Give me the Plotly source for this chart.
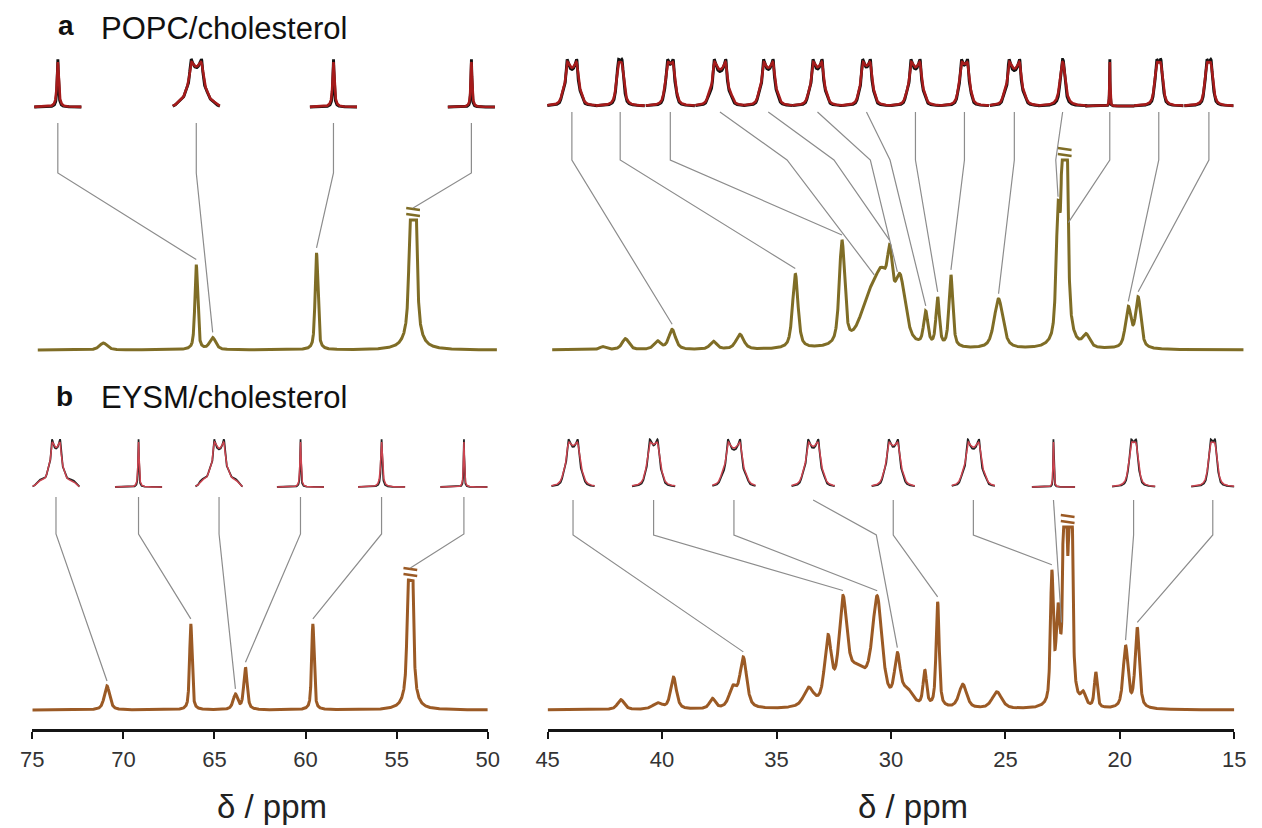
import numpy as np
import plotly.graph_objects as go

W, H = 1262, 828

# ---------------- spectra: peak lists (ppm, height, FWHM in ppm) ----------------
a_left_ppm = [71.1, 66.0, 65.1, 59.4, 54.1]
a_left_h = [7, 85, 12, 97, 400]
a_left_w = [0.5, 0.18, 0.4, 0.18, 0.28]
a_left_cap = 130
a_left_break = [54.1]

a_right_ppm = [42.6, 41.6, 40.2, 39.56, 37.76, 36.6, 34.18, 32.14, 31.0, 30.4, 30.05, 29.6,
               28.48, 27.96, 27.38, 25.3, 22.7, 22.41, 21.47, 19.63, 19.2]
a_right_h = [3, 11, 8, 20, 8, 15, 75, 104, 38, 62, 50, 62,
             33, 48, 72, 50, 115, 500, 12, 40, 50]
a_right_w = [0.3, 0.35, 0.35, 0.35, 0.35, 0.4, 0.28, 0.28, 0.9, 0.8, 0.25, 0.55,
             0.22, 0.18, 0.2, 0.45, 0.2, 0.2, 0.35, 0.3, 0.28]
a_right_cap = 190
a_right_break = [22.41]

b_left_ppm = [70.9, 66.3, 63.85, 63.3, 59.6, 54.25]
b_left_h = [24, 86, 15, 42, 86, 400]
b_left_w = [0.35, 0.16, 0.3, 0.22, 0.16, 0.22]
b_left_cap = 130
b_left_break = [54.25]

b_right_ppm = [41.8, 40.2, 39.5, 37.8, 36.9, 36.45, 33.6, 32.75, 32.1, 31.5, 30.6, 29.72,
               29.3, 28.52, 27.96, 26.86, 25.37, 22.97, 22.7, 22.4, 22.15, 21.6, 21.05,
               19.75, 19.24]
b_right_h = [10, 6, 32, 10, 20, 50, 18, 64, 92, 35, 102, 45,
             15, 35, 105, 24, 17, 128, 85, 400, 400, 12, 35, 62, 80]
b_right_w = [0.35, 0.5, 0.3, 0.3, 0.4, 0.35, 0.5, 0.35, 0.4, 1.2, 0.5, 0.3,
             0.6, 0.18, 0.16, 0.4, 0.5, 0.15, 0.2, 0.14, 0.14, 0.25, 0.15, 0.25, 0.22]
b_right_cap = 183
b_right_break = [22.28]

# ---------------- insets (position in ppm, dipolar splitting, line width, wings) ----------------
a_left_inset_ppm = [73.6, 66.0, 58.47, 50.9]
a_left_inset_split = [0, 12, 0, 0]
a_left_inset_lw = [2.2, 3.8, 2.2, 1.6]
a_left_inset_wing = [0, 0.1, 0, 0]
a_left_link_to = [66.0, 65.1, 59.4, 54.1]
a_left_link_via = [None, None, None, None]

a_right_inset_ppm = [43.94, 41.83, 39.64, 37.47, 35.36, 33.21, 31.07, 28.93, 26.79, 24.61,
                     22.5, 20.44, 18.3, 16.11]
a_right_inset_split = [11, 5, 7, 13, 11, 10.5, 9, 10.5, 7.5, 12, 3, 0, 5.5, 5.5]
a_right_inset_lw = [3.2, 3.4, 3.2, 3.2, 3.2, 3.2, 3.2, 3.2, 3.2, 3.2, 4.5, 0.7, 3.2, 3.2]
a_right_inset_wing = [0] * 14
a_right_link_to = [39.56, 34.18, 32.14, 30.73, 30.07, 29.72, 28.48, 27.96, 27.38, 25.3,
                   22.7, 22.25, 19.63, 19.2]
a_right_link_via = [None, None, None, 34.54, 32.49, 30.9, 30.04, None, None, None,
                    22.8, None, None, None]

b_left_inset_ppm = [73.7, 69.17, 64.75, 60.28, 55.83, 51.31]
b_left_inset_split = [9.3, 0, 11, 0, 0, 0]
b_left_inset_lw = [2.6, 1.4, 2.8, 1.4, 2.2, 1.2]
b_left_inset_wing = [0.14, 0, 0.16, 0, 0, 0]
b_left_link_to = [70.9, 66.3, 63.85, 63.3, 59.6, 54.25]
b_left_link_via = [None] * 6

b_right_inset_ppm = [43.89, 40.37, 36.86, 33.4, 29.9, 26.4, 22.9, 19.4, 15.94]
b_right_inset_split = [11, 9.6, 14, 12, 11, 13, 0, 6.5, 6]
b_right_inset_lw = [4, 4, 4, 4, 4, 4, 1.0, 3.6, 3.6]
b_right_inset_wing = [0] * 9
b_right_link_to = [36.45, 32.1, 30.6, 29.72, 27.96, 22.97, 22.55, 19.75, 19.24]
b_right_link_via = [None, None, None, 30.64, None, None, 22.8, None, None]

x_ticks_left = [75, 70, 65, 60, 55, 50]
x_ticks_right = [45, 40, 35, 30, 25, 20, 15]

# ---------------- styles / layout geometry ----------------
COL_A = "#7f6d26"
COL_B = "#9b5a25"
RED_A, BLK_A = "#a51b1b", "#111111"
RED_B, BLK_B = "#cc4450", "#222222"
GRAY = "#8c8c8c"
FONT = "Liberation Sans, Arial, sans-serif"

LPX = (485 - 20.7) / 25.0    # px per ppm, left block
RPX = (1246 - 546) / 30.0    # px per ppm, right block


def xdom(px0, ppm0, pxppm, r):
    a = px0 + (ppm0 - r[0]) * pxppm
    b = px0 + (ppm0 - r[1]) * pxppm
    return [a / W, b / W]


def ydom(py_bottom, py_top):
    return [1 - py_bottom / H, 1 - py_top / H]


quads = {
    "aL": dict(ax="x", ay="y", rng=[75.5, 49.3], px0=20.7, ppm0=75, pxppm=LPX,
               base=350, ybot=365, ytop=45, span=[74.7, 49.5],
               pk=(a_left_ppm, a_left_h, a_left_w), cap=a_left_cap, brk=a_left_break,
               ins=(a_left_inset_ppm, a_left_inset_split, a_left_inset_lw, a_left_inset_wing),
               link=(a_left_link_to, a_left_link_via), col=COL_A, red=RED_A, blk=BLK_A,
               ilw=2.6, ibase=107, ih=45, ihw=24, start=123, bend=173),
    "aR": dict(ax="x2", ay="y2", rng=[45.4, 14.5], px0=546, ppm0=45, pxppm=RPX,
               base=350, ybot=365, ytop=45, span=[44.8, 14.6],
               pk=(a_right_ppm, a_right_h, a_right_w), cap=a_right_cap, brk=a_right_break,
               ins=(a_right_inset_ppm, a_right_inset_split, a_right_inset_lw, a_right_inset_wing),
               link=(a_right_link_to, a_right_link_via), col=COL_A, red=RED_A, blk=BLK_A,
               ilw=2.6, ibase=106, ih=44, ihw=25, start=112, bend=160),
    "bL": dict(ax="x3", ay="y3", rng=[75, 50], px0=20.7, ppm0=75, pxppm=LPX,
               base=710, ybot=729, ytop=425, span=[75, 50],
               pk=(b_left_ppm, b_left_h, b_left_w), cap=b_left_cap, brk=b_left_break,
               ins=(b_left_inset_ppm, b_left_inset_split, b_left_inset_lw, b_left_inset_wing),
               link=(b_left_link_to, b_left_link_via), col=COL_B, red=RED_B, blk=BLK_B,
               ilw=1.5, ibase=487, ih=45, ihw=24, start=497, bend=534),
    "bR": dict(ax="x4", ay="y4", rng=[45, 15], px0=546, ppm0=45, pxppm=RPX,
               base=710, ybot=729, ytop=425, span=[45, 15],
               pk=(b_right_ppm, b_right_h, b_right_w), cap=b_right_cap, brk=b_right_break,
               ins=(b_right_inset_ppm, b_right_inset_split, b_right_inset_lw, b_right_inset_wing),
               link=(b_right_link_to, b_right_link_via), col=COL_B, red=RED_B, blk=BLK_B,
               ilw=1.5, ibase=487, ih=45, ihw=22, start=500, bend=535),
}


def spectrum(x, pk, cap, eta=0.6):
    y = np.zeros_like(x)
    for c, h, w in zip(*pk):
        d = (x - c) / w
        y += h * (eta / (1 + 4 * d ** 2) + (1 - eta) * np.exp(-4 * np.log(2) * d ** 2))
    return np.minimum(y, cap)


def lineshape(v, split, lw, wing):
    if split > 0:
        c = np.linspace(0, 1, 301)
        nu = 0.5 * split * (3 * c ** 2 - 1)
        s = np.zeros_like(v)
        for n in nu:
            s += 1 / (1 + 4 * ((v - n) / lw) ** 2) + 1 / (1 + 4 * ((v + n) / lw) ** 2)
    else:
        s = 1 / (1 + 4 * (v / lw) ** 2)
    s = s / s.max()
    if wing > 0:
        s = s + wing / (1 + np.exp((np.abs(v) - 20) / 1.2))
        s = s / s.max()
    return s


fig = go.Figure()
layout_axes = {}

for key, q in quads.items():
    xa, ya = q["ax"], q["ay"]
    base = q["base"]
    # spectrum
    xs = np.linspace(q["span"][0], q["span"][1], 5000)
    ys = spectrum(xs, q["pk"], q["cap"])
    fig.add_trace(go.Scatter(x=xs, y=ys, mode="lines", xaxis=xa, yaxis=ya,
                             line=dict(color=q["col"], width=3), hoverinfo="skip",
                             showlegend=False))
    # break marks on truncated peaks
    dx = 7.0 / q["pxppm"]
    for c in q["brk"]:
        for off in (5, 11):
            fig.add_trace(go.Scatter(x=[c + dx, c - dx], y=[q["cap"] + off + 1, q["cap"] + off - 1],
                                     mode="lines", xaxis=xa, yaxis=ya,
                                     line=dict(color=q["col"], width=2.5),
                                     hoverinfo="skip", showlegend=False))
    # connectors
    cx, cy = [], []
    y_start = base - q["start"]
    y_bend = base - q["bend"]
    for ip, tgt, via in zip(q["ins"][0], q["link"][0], q["link"][1]):
        ty = float(spectrum(np.array([tgt]), q["pk"], q["cap"])[0])
        ty = ty + (12 if ty >= q["cap"] - 0.5 else 5)
        bx = ip if via is None else via
        cx += [ip, bx, tgt, None]
        cy += [y_start, y_bend, ty, None]
    fig.add_trace(go.Scatter(x=cx, y=cy, mode="lines", xaxis=xa, yaxis=ya,
                             line=dict(color=GRAY, width=1.2), hoverinfo="skip",
                             showlegend=False))
    # insets
    ib = base - q["ibase"]
    hw = q["ihw"]
    v = np.linspace(-hw, hw, 400)
    for ip, sp, lw, wg in zip(*q["ins"]):
        xv = ip - v / q["pxppm"]
        exp_shape = lineshape(v, sp, lw * 0.7, wg * 1.2) * 1.06
        fit_shape = lineshape(v, sp, lw, wg)
        fig.add_trace(go.Scatter(x=xv, y=ib + q["ih"] * exp_shape, mode="lines",
                                 xaxis=xa, yaxis=ya,
                                 line=dict(color=q["blk"], width=q["ilw"] + 0.3),
                                 hoverinfo="skip", showlegend=False))
        fig.add_trace(go.Scatter(x=xv, y=ib + q["ih"] * fit_shape, mode="lines",
                                 xaxis=xa, yaxis=ya,
                                 line=dict(color=q["red"], width=q["ilw"]),
                                 hoverinfo="skip", showlegend=False))

    axis_x_name = "xaxis" + xa[1:]
    axis_y_name = "yaxis" + ya[1:]
    show_axis = key.startswith("b")
    xd = dict(domain=xdom(q["px0"], q["ppm0"], q["pxppm"], q["rng"]), range=q["rng"],
              anchor=ya, showgrid=False, zeroline=False, fixedrange=True)
    if show_axis:
        ticks = x_ticks_left if key == "bL" else x_ticks_right
        xd.update(showline=True, linewidth=2.5, linecolor="#151515",
                  ticks="outside", ticklen=7, tickwidth=2, tickcolor="#151515",
                  tickvals=ticks, ticktext=[str(t) for t in ticks],
                  tickfont=dict(family=FONT, size=22, color="#333333"),
                  ticklabelstandoff=2)
    else:
        xd.update(visible=False)
    layout_axes[axis_x_name] = xd
    layout_axes[axis_y_name] = dict(domain=ydom(q["ybot"], q["ytop"]),
                                    range=[base - q["ybot"], base - q["ytop"]],
                                    anchor=xa, visible=False, fixedrange=True)


def ann(text, px, py, size, xanchor="left", bold=False, color="#111111"):
    return dict(text=("<b>%s</b>" % text) if bold else text, x=px / W, y=1 - py / H,
                xref="paper", yref="paper", xanchor=xanchor, yanchor="middle",
                showarrow=False, font=dict(family=FONT, size=size, color=color))


annotations = [
    ann("a", 55, 25, 28, xanchor="center", bold=True),
    ann("POPC/cholesterol", 89, 28, 31),
    ann("b", 54, 396, 28, xanchor="center", bold=True),
    ann("EYSM/cholesterol", 89, 397, 31),
    ann("δ / ppm", 265, 806, 33, xanchor="center", color="#222222"),
    ann("δ / ppm", 918, 806, 33, xanchor="center", color="#222222"),
]

fig.update_layout(width=W, height=H, margin=dict(l=0, r=0, t=0, b=0),
                  paper_bgcolor="white", plot_bgcolor="white", showlegend=False,
                  annotations=annotations, **layout_axes)

fig.write_html("out.html", config={"displayModeBar": False})
